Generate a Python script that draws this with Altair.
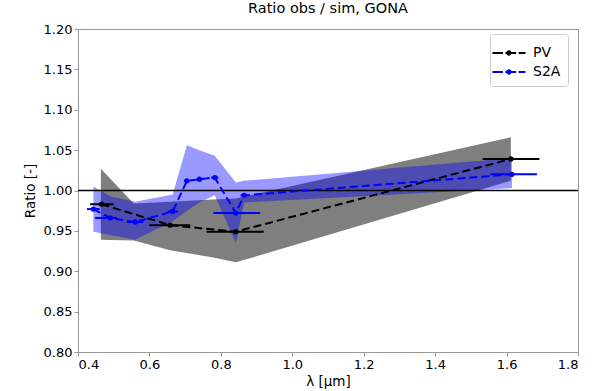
import altair as alt
import pandas as pd

# ---------------- data ----------------
# PV (black)
pv_wl = [0.466, 0.658, 0.842, 1.612]
pv_ratio = [0.983, 0.957, 0.949, 1.039]
pv_wl_lo = [0.434, 0.600, 0.760, 1.533]
pv_wl_hi = [0.500, 0.714, 0.920, 1.692]

# PV uncertainty band (grey)
pv_band_wl = [0.464, 0.556, 0.658, 0.779, 0.842, 1.612]
pv_band_lo = [0.939, 0.938, 0.926, 0.917, 0.911, 1.012]
pv_band_hi = [1.027, 0.984, 0.986, 0.989, 0.990, 1.066]

# S2A (blue)
s2a_wl = [0.443, 0.490, 0.560, 0.665, 0.705, 0.740, 0.783, 0.842, 0.865, 1.615]
s2a_ratio = [0.977, 0.966, 0.961, 0.974, 1.012, 1.014, 1.016, 0.972, 0.994, 1.020]
s2a_wl_lo = [0.425, 0.448, 0.537, 0.650, 0.697, 0.733, 0.773, 0.779, 0.855, 1.555]
s2a_wl_hi = [0.461, 0.508, 0.583, 0.680, 0.713, 0.748, 0.793, 0.910, 0.875, 1.685]
s2a_band_lo = [0.949, 0.945, 0.939, 0.962, 0.975, 0.985, 0.994, 0.935, 0.985, 1.003]
s2a_band_hi = [1.005, 0.993, 0.986, 0.995, 1.056, 1.050, 1.043, 1.010, 1.012, 1.040]

series_names = ["PV", "S2A"]
series_colors = ["black", "blue"]
reference_level = 1.0

x_ticks = [0.4, 0.6, 0.8, 1.0, 1.2, 1.4, 1.6, 1.8]
y_ticks = [0.80, 0.85, 0.90, 0.95, 1.00, 1.05, 1.10, 1.15, 1.20]

# ---------------- tables ----------------
pts = pd.concat([
    pd.DataFrame({"series": "PV", "wl": pv_wl, "ratio": pv_ratio,
                  "lo": pv_wl_lo, "hi": pv_wl_hi, "order": range(len(pv_wl))}),
    pd.DataFrame({"series": "S2A", "wl": s2a_wl, "ratio": s2a_ratio,
                  "lo": s2a_wl_lo, "hi": s2a_wl_hi, "order": range(len(s2a_wl))}),
])
pv_band = pd.DataFrame({"wl": pv_band_wl, "lo": pv_band_lo, "hi": pv_band_hi})
s2a_band = pd.DataFrame({"wl": s2a_wl, "lo": s2a_band_lo, "hi": s2a_band_hi})

FONT = "DejaVu Sans"

xscale = alt.Scale(domain=[0.4, 1.8], nice=False, zero=False)
yscale = alt.Scale(domain=[0.8, 1.2], nice=False, zero=False)
cscale = alt.Scale(domain=series_names, range=series_colors)

xax = alt.Axis(values=x_ticks, format=".1f", title="λ [μm]", grid=False)
yax = alt.Axis(values=y_ticks, format=".2f", title="Ratio [-]", grid=False)

X = alt.X("wl:Q", scale=xscale, axis=xax)
Y = alt.Y("lo:Q", scale=yscale, axis=yax)

legend_symbol = ("M-1.375,-0.085H-0.5V0.085H-1.375Z "
                 "M-0.3,-0.085H0.6V0.085H-0.3Z "
                 "M0.8,-0.085H1.375V0.085H0.8Z "
                 "M0.22,0A0.22,0.22 0 1,1 -0.22,0A0.22,0.22 0 1,1 0.22,0Z")

leg = alt.Legend(
    title=None, orient="none", legendX=412, legendY=5,
    symbolType=legend_symbol, symbolSize=576, symbolStrokeWidth=0,
    symbolOpacity=1, symbolFillColor="black",
    labelFont=FONT, labelFontSize=14, labelColor="black", labelOffset=12,
    fillColor="white", strokeColor="#cccccc", cornerRadius=3,
    padding=7, rowPadding=0,
)

grey = alt.Chart(pv_band).mark_area(color="black", opacity=0.5, interpolate="linear").encode(
    x=X, y=Y, y2="hi:Q")
blueband = alt.Chart(s2a_band).mark_area(color="blue", opacity=0.4, interpolate="linear").encode(
    x=X, y=Y, y2="hi:Q")

hline = alt.Chart(pd.DataFrame({"v": [reference_level]})).mark_rule(
    color="black", strokeWidth=1.5).encode(y=alt.Y("v:Q", scale=yscale, axis=yax))

xerr = alt.Chart(pts).mark_rule(strokeWidth=2).encode(
    x=alt.X("lo:Q", scale=xscale, axis=xax),
    x2="hi:Q",
    y=alt.Y("ratio:Q", scale=yscale, axis=yax),
    stroke=alt.Stroke("series:N", scale=cscale, legend=None),
)

lines = alt.Chart(pts).mark_line(strokeWidth=2, strokeDash=[8, 4]).encode(
    x=X, y=alt.Y("ratio:Q", scale=yscale, axis=yax),
    order="order:Q",
    detail="series:N",
    stroke=alt.Stroke("series:N", scale=cscale, legend=None),
)

points = alt.Chart(pts).mark_point(filled=True, size=28, opacity=1, shape="circle").encode(
    x=X, y=alt.Y("ratio:Q", scale=yscale, axis=yax),
    color=alt.Color("series:N", scale=cscale, legend=leg),
)

chart = alt.layer(grey, blueband, hline, xerr, lines, points).properties(
    width=500, height=323,
    title=alt.TitleParams("Ratio obs / sim, GONA", font=FONT, fontSize=14.5,
                          fontWeight="normal", color="black", offset=7),
    autosize=alt.AutoSizeParams(type="none"),
    padding={"left": 78, "top": 29, "right": 29, "bottom": 39},
).resolve_scale(color="independent", stroke="independent").configure_view(
    stroke="#999999", strokeWidth=1).configure_axis(
    labelFont=FONT, labelFontSize=13, labelColor="black",
    titleFont=FONT, titleFontSize=13.5, titleColor="black", titleFontWeight="normal",
    domainColor="#999999", tickColor="#999999", tickSize=4, labelPadding=2,
).configure_axisY(labelPadding=2, titlePadding=6).configure_axisX(titlePadding=3)

chart.save("out.html", embed_options={"renderer": "svg", "actions": False})
